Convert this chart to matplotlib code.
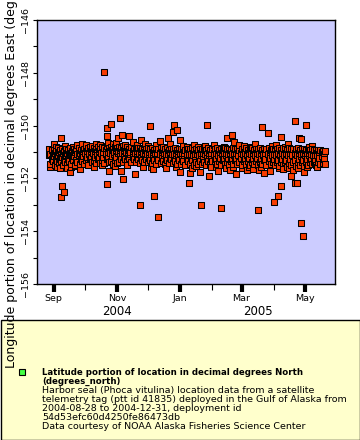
import numpy as np
import pandas as pd
import matplotlib
matplotlib.use('Agg')
import matplotlib.pyplot as plt
import matplotlib.dates as mdates
from matplotlib.colors import LinearSegmentedColormap
from matplotlib.patches import Rectangle

# seal track longitudes
# dense band: one point a day (hi) and one every two days (mid, lo)
hi_start = '2004-08-28'
band_hi = [
    # Aug 28 - Sep
    -150.90, -151.06, -150.94, -151.10, -150.88, -151.03, -150.97, -151.12, -150.86, -151.01,
    -150.93, -151.08, -150.89, -151.05, -150.96, -151.11, -150.87, -151.02, -150.92, -151.09,
    -150.85, -151.04, -150.98, -151.10, -150.88, -151.00, -150.94, -151.07, -150.86, -151.03,
    -150.91, -151.08, -150.95, -150.87,
    # Oct
    -151.02, -150.84, -150.98, -150.86, -151.04, -150.81, -150.96, -150.89, -151.03, -150.83,
    -150.97, -150.87, -151.01, -150.80, -150.95, -150.88, -151.02, -150.82, -150.99, -150.85,
    -150.93, -150.79, -151.00, -150.86, -150.96, -150.81, -150.94, -150.88, -150.99, -150.80, -150.92,
    # Nov
    -150.83, -150.98, -150.80, -150.95, -150.86, -151.00, -150.79, -150.94, -150.84, -150.99,
    -150.82, -150.96, -150.87, -151.01, -150.81, -150.95, -150.88, -151.02, -150.83, -150.97,
    -150.86, -151.03, -150.84, -150.98, -150.89, -151.04, -150.85, -150.99, -150.90, -151.02,
    # Dec
    -150.86, -151.03, -150.89, -151.06, -150.85, -151.00, -150.91, -151.05, -150.87, -151.02,
    -150.90, -151.07, -150.84, -151.01, -150.92, -151.04, -150.88, -151.06, -150.86, -151.00,
    -150.93, -151.05, -150.87, -151.03, -150.90, -151.08, -150.85, -151.02, -150.91, -151.04, -150.88,
    # Jan
    -151.05, -150.89, -151.08, -150.87, -151.03, -150.92, -151.09, -150.88, -151.04, -150.90,
    -151.07, -150.86, -151.02, -150.93, -151.08, -150.89, -151.05, -150.91, -151.10, -150.87,
    -151.03, -150.90, -151.06, -150.88, -151.04, -150.92, -151.09, -150.86, -151.02, -150.91, -151.07,
    # Feb
    -150.88, -151.05, -150.90, -151.08, -150.86, -151.03, -150.92, -151.07, -150.87, -151.04,
    -150.91, -151.09, -150.85, -151.02, -150.89, -151.06, -150.88, -151.04, -150.92, -151.08,
    -150.86, -151.03, -150.90, -151.07, -150.87, -151.05, -150.91, -151.02,
    # Mar
    -150.87, -151.06, -150.90, -151.04, -150.86, -151.08, -150.92, -151.03, -150.88, -151.07,
    -150.85, -151.05, -150.91, -151.09, -150.87, -151.02, -150.89, -151.06, -150.86, -151.04,
    -150.92, -151.08, -150.88, -151.03, -150.90, -151.07, -150.85, -151.05, -150.91, -151.02, -150.88,
    # Apr
    -151.06, -150.87, -151.09, -150.89, -151.04, -150.85, -151.08, -150.91, -151.05, -150.86,
    -151.10, -150.88, -151.03, -150.90, -151.07, -150.84, -151.06, -150.89, -151.11, -150.87,
    -151.04, -150.90, -151.08, -150.86, -151.05, -150.92, -151.09, -150.88, -151.03, -150.90,
    # May
    -151.05, -150.91, -151.08, -150.89, -151.04, -150.93, -151.09, -150.90, -151.06, -150.92,
    -151.10, -150.91, -151.05, -150.94, -151.08, -150.92, -151.04, -150.95, -151.07, -150.96,
]

band_mid = [
    -151.12, -151.28, -151.16, -151.30, -151.10, -151.25, -151.18, -151.31, -151.13, -151.27,
    -151.09, -151.24, -151.17, -151.29, -151.11, -151.26, -151.15,
    -151.05, -151.20, -151.08, -151.22, -151.03, -151.18, -151.10, -151.21, -151.04, -151.19,
    -151.07, -151.23, -151.02, -151.17, -151.09, -151.20,
    -151.02, -151.17, -151.05, -151.19, -151.00, -151.15, -151.07, -151.20, -151.03, -151.18,
    -151.06, -151.21, -151.04, -151.16, -151.08,
    -151.22, -151.07, -151.24, -151.09, -151.20, -151.05, -151.23, -151.10, -151.25, -151.06,
    -151.21, -151.08, -151.24, -151.11, -151.19,
    -151.08, -151.25, -151.11, -151.27, -151.07, -151.23, -151.12, -151.26, -151.09, -151.24,
    -151.13, -151.28, -151.06, -151.22, -151.10, -151.25,
    -151.09, -151.26, -151.12, -151.24, -151.07, -151.27, -151.11, -151.23, -151.08, -151.25,
    -151.13, -151.28, -151.10, -151.22,
    -151.08, -151.26, -151.11, -151.24, -151.07, -151.28, -151.12, -151.23, -151.09, -151.27,
    -151.10, -151.25, -151.06, -151.24, -151.11,
    -151.27, -151.10, -151.30, -151.12, -151.26, -151.08, -151.31, -151.13, -151.28, -151.09,
    -151.32, -151.11, -151.27, -151.14, -151.29,
    -151.12, -151.27, -151.10, -151.25, -151.13, -151.28, -151.11, -151.24, -151.14, -151.26,
]

band_lo = [
    -151.45, -151.34, -151.48, -151.36, -151.43, -151.33, -151.50, -151.37, -151.46, -151.35,
    -151.44, -151.32, -151.49, -151.38, -151.45, -151.34, -151.47,
    -151.30, -151.41, -151.27, -151.39, -151.32, -151.43, -151.28, -151.40, -151.31, -151.42,
    -151.26, -151.38, -151.33, -151.44, -151.29, -151.40,
    -151.36, -151.25, -151.38, -151.28, -151.35, -151.24, -151.39, -151.27, -151.37, -151.26,
    -151.40, -151.29, -151.36, -151.25, -151.38,
    -151.30, -151.42, -151.32, -151.44, -151.29, -151.41, -151.33, -151.45, -151.31, -151.43,
    -151.28, -151.40, -151.34, -151.46, -151.32,
    -151.46, -151.34, -151.48, -151.35, -151.44, -151.32, -151.49, -151.36, -151.45, -151.33,
    -151.47, -151.37, -151.50, -151.34, -151.46, -151.35,
    -151.33, -151.46, -151.35, -151.48, -151.32, -151.45, -151.36, -151.49, -151.34, -151.47,
    -151.31, -151.44, -151.37, -151.48,
    -151.35, -151.47, -151.33, -151.49, -151.36, -151.46, -151.34, -151.50, -151.37, -151.45,
    -151.32, -151.48, -151.35, -151.47, -151.38,
    -151.50, -151.37, -151.53, -151.39, -151.48, -151.36, -151.55, -151.40, -151.51, -151.38,
    -151.54, -151.41, -151.49, -151.37, -151.52,
    -151.38, -151.48, -151.36, -151.46, -151.39, -151.49, -151.37, -151.45, -151.40, -151.47,
]

# points off the band (date, longitude)
out_dates = [
    '2004-10-20', '2004-11-04', '2004-10-26', '2004-12-03', '2004-12-26', '2005-01-27',
    '2005-03-21', '2005-03-26', '2005-04-21', '2005-05-02', '2004-09-01', '2004-09-08',
    '2004-09-28', '2004-10-22', '2004-10-22', '2004-10-23', '2004-11-02', '2004-11-06',
    '2004-11-13', '2004-11-24', '2004-12-20', '2004-12-25', '2004-12-29', '2005-01-01',
    '2005-02-20', '2005-02-15', '2005-04-08', '2005-04-25', '2005-04-27', '2005-05-17',
    '2005-05-11', '2004-11-16', '2004-12-12', '2005-02-22',
    '2004-09-07', '2004-09-17', '2004-09-26', '2004-10-24', '2004-11-05', '2004-11-07',
    '2004-11-18', '2004-10-22', '2004-09-09', '2004-09-11', '2004-09-08', '2004-11-23',
    '2004-12-07', '2004-12-11', '2005-01-09', '2005-01-21', '2005-02-09', '2005-03-17',
    '2005-04-01', '2005-04-05', '2005-04-08', '2005-04-21', '2005-04-23', '2005-04-27',
    '2005-04-29', '2005-02-24', '2005-03-06', '2005-01-29', '2005-02-06', '2005-01-10',
    '2005-01-01', '2005-04-18', '2005-04-30', '2005-03-18', '2005-03-23', '2004-09-18',
    '2005-01-20', '2004-12-06', '2005-02-18', '2005-03-28',
    # fringe above the band
    '2004-09-03', '2004-09-12', '2004-09-20', '2004-09-24', '2004-10-02', '2004-10-08',
    '2004-10-12', '2004-10-16', '2004-10-28', '2004-10-31', '2004-11-09', '2004-11-20',
    '2004-11-28', '2004-12-01', '2004-12-09', '2004-12-15', '2004-12-22', '2005-01-04',
    '2005-01-07', '2005-01-14', '2005-01-18', '2005-01-25', '2005-02-02', '2005-02-12',
    '2005-02-27', '2005-03-03', '2005-03-10', '2005-03-14', '2005-03-30', '2005-04-03',
    '2005-04-12', '2005-04-15', '2005-05-05', '2005-05-08',
    # fringe below the band
    '2004-08-29', '2004-09-04', '2004-09-14', '2004-09-22', '2004-10-04', '2004-10-10',
    '2004-10-18', '2004-10-30', '2004-11-11', '2004-11-26', '2004-12-04', '2004-12-18',
    '2004-12-28', '2005-01-12', '2005-01-16', '2005-01-31', '2005-02-04', '2005-02-14',
    '2005-02-21', '2005-03-01', '2005-03-08', '2005-03-12', '2005-03-20', '2005-04-06',
    '2005-04-10', '2005-04-16', '2005-04-20', '2005-04-24', '2005-05-03', '2005-05-13',
]
out_vals = [
    -147.97, -149.71, -149.94, -150.02, -149.98, -149.98,
    -150.05, -150.28, -149.83, -149.98, -150.70, -150.47,
    -150.70, -150.09, -150.39, -150.66, -150.47, -150.36,
    -150.39, -150.55, -150.47, -150.24, -150.17, -150.55,
    -150.36, -150.47, -150.43, -150.47, -150.51, -151.00,
    -151.42, -150.62, -150.58, -150.62,
    -151.61, -151.76, -151.64, -151.72, -151.72, -152.02,
    -151.83, -152.21, -152.29, -152.52, -152.70, -153.01,
    -152.67, -153.46, -152.17, -153.01, -153.12, -153.20,
    -152.89, -152.67, -152.29, -152.17, -152.17, -153.69,
    -154.18, -151.83, -151.68, -151.91, -151.72, -151.80,
    -151.76, -151.91, -151.76, -151.68, -151.80, -151.56,
    -151.76, -151.64, -151.68, -151.72,
    -150.80, -150.78, -150.82, -150.75, -150.72, -150.78,
    -150.68, -150.74, -150.70, -150.65, -150.72, -150.75,
    -150.70, -150.78, -150.74, -150.80, -150.68, -150.76,
    -150.82, -150.72, -150.80, -150.78, -150.74, -150.80,
    -150.72, -150.78, -150.82, -150.70, -150.76, -150.74,
    -150.80, -150.70, -150.82, -150.78,
    -151.58, -151.55, -151.60, -151.52, -151.50, -151.55,
    -151.48, -151.52, -151.50, -151.55, -151.58, -151.62,
    -151.55, -151.60, -151.52, -151.58, -151.55, -151.62,
    -151.58, -151.60, -151.55, -151.64, -151.58, -151.62,
    -151.66, -151.60, -151.68, -151.62, -151.58, -151.55,
]

cbar_ticks = [-90, -70, -50, -30, -10, 10, 30, 50, 70, 90]
legend_title = ['Latitude portion of location in decimal degrees North', '(degrees_north)']
legend_lines = [
    'Harbor seal (Phoca vitulina) location data from a satellite',
    'telemetry tag (ptt id 41835) deployed in the Gulf of Alaska from',
    '2004-08-28 to 2004-12-31, deployment id',
    '54d53efc60d4250fe86473db',
    'Data courtesy of NOAA Alaska Fisheries Science Center',
]

# put everything in one table and sort by time, like the tag would report it
hi = pd.DataFrame({'time': pd.date_range(hi_start, periods=len(band_hi), freq='D'), 'lon': band_hi})
mid = pd.DataFrame({'time': pd.date_range(hi_start, periods=len(band_mid), freq='2D'), 'lon': band_mid})
lo = pd.DataFrame({'time': pd.date_range('2004-08-29', periods=len(band_lo), freq='2D'), 'lon': band_lo})
out = pd.DataFrame({'time': pd.to_datetime(out_dates), 'lon': out_vals})
df = pd.concat([hi, mid, lo, out]).sort_values('time')

W, H = 360, 440
fig = plt.figure(figsize=(W / 100, H / 100), dpi=100)
ax = fig.add_axes([37 / W, (H - 284) / H, 298 / W, 264 / H])
ax.set_facecolor('#ccccff')

ax.scatter(df['time'], df['lon'], marker='s', s=15, c='#f83c00', edgecolors='black', linewidths=0.75, zorder=3)

ax.set_xlim(pd.Timestamp('2004-08-16'), pd.Timestamp('2005-05-30'))
ax.set_ylim(-156, -146)

ax.xaxis.set_major_locator(mdates.MonthLocator(bymonth=[1, 3, 5, 9, 11]))
ax.xaxis.set_minor_locator(mdates.MonthLocator(bymonth=[2, 4, 10, 12]))
ax.xaxis.set_major_formatter(mdates.DateFormatter('%b'))
ax.set_yticks([-156, -154, -152, -150, -148, -146])
ax.set_yticks([-155, -153, -151, -149, -147], minor=True)

ax.tick_params(axis='both', which='both', direction='out', colors='black', labelsize=6.8, width=0.8)
ax.tick_params(axis='x', which='both', length=4, pad=3)
ax.tick_params(axis='y', which='both', length=3, pad=2)
for lab in ax.get_yticklabels():
    lab.set_rotation(90)
    lab.set_va('center')
for sp in ax.spines.values():
    sp.set_linewidth(1)

# thick tick at the new year
for t in ax.xaxis.get_major_ticks():
    if mdates.num2date(t.get_loc()).month == 1:
        t.tick1line.set_markeredgewidth(3)
        t.tick1line.set_markersize(6)

ax.text(pd.Timestamp('2004-11-01'), -0.105, '2004', transform=ax.get_xaxis_transform(),
        ha='center', va='center', fontsize=8.5)
ax.text(pd.Timestamp('2005-03-17'), -0.105, '2005', transform=ax.get_xaxis_transform(),
        ha='center', va='center', fontsize=8.5)

fig.text(12 / W, (H - 368) / H, 'Longitude portion of location in decimal degrees East (degrees_east)',
         rotation=90, ha='center', va='bottom', fontsize=9)

# legend area
fig.patches.append(Rectangle((0.5 / W, 0.5 / H), (W - 1) / W, 119.5 / H, transform=fig.transFigure,
                             facecolor='#ffffcc', edgecolor='black', linewidth=1, zorder=0))

cmap = LinearSegmentedColormap.from_list('erd_rainbow', [
    (0.0, '#800080'), (1 / 9, '#ff00ff'), (2 / 9, '#2200ff'), (3 / 9, '#00bbff'),
    (4 / 9, '#22ff55'), (5 / 9, '#77ee00'), (6 / 9, '#ffdd00'), (7 / 9, '#ff8800'),
    (8 / 9, '#ee0000'), (1.0, '#660000')])
cax = fig.add_axes([41 / W, (H - 349) / H, 294 / W, 14 / H])
sm = plt.cm.ScalarMappable(cmap=cmap, norm=plt.Normalize(-90, 90))
cb = fig.colorbar(sm, cax=cax, orientation='horizontal', ticks=cbar_ticks)
cb.outline.set_visible(False)
cb.ax.tick_params(labelsize=7, length=2, width=0.8, pad=1)

fig.patches.append(Rectangle(((22 - 3) / W, (H - 372 - 3) / H), 6 / W, 6 / H, transform=fig.transFigure,
                             facecolor='#44ff44', edgecolor='black', linewidth=0.8))
y = 372
for line in legend_title:
    fig.text(42 / W, (H - y) / H, line, ha='left', va='center', fontsize=6.2, fontweight='bold')
    y += 9
for line in legend_lines:
    fig.text(42 / W, (H - y) / H, line, ha='left', va='center', fontsize=6.8)
    y += 9

fig.savefig('out.png', dpi=100)
